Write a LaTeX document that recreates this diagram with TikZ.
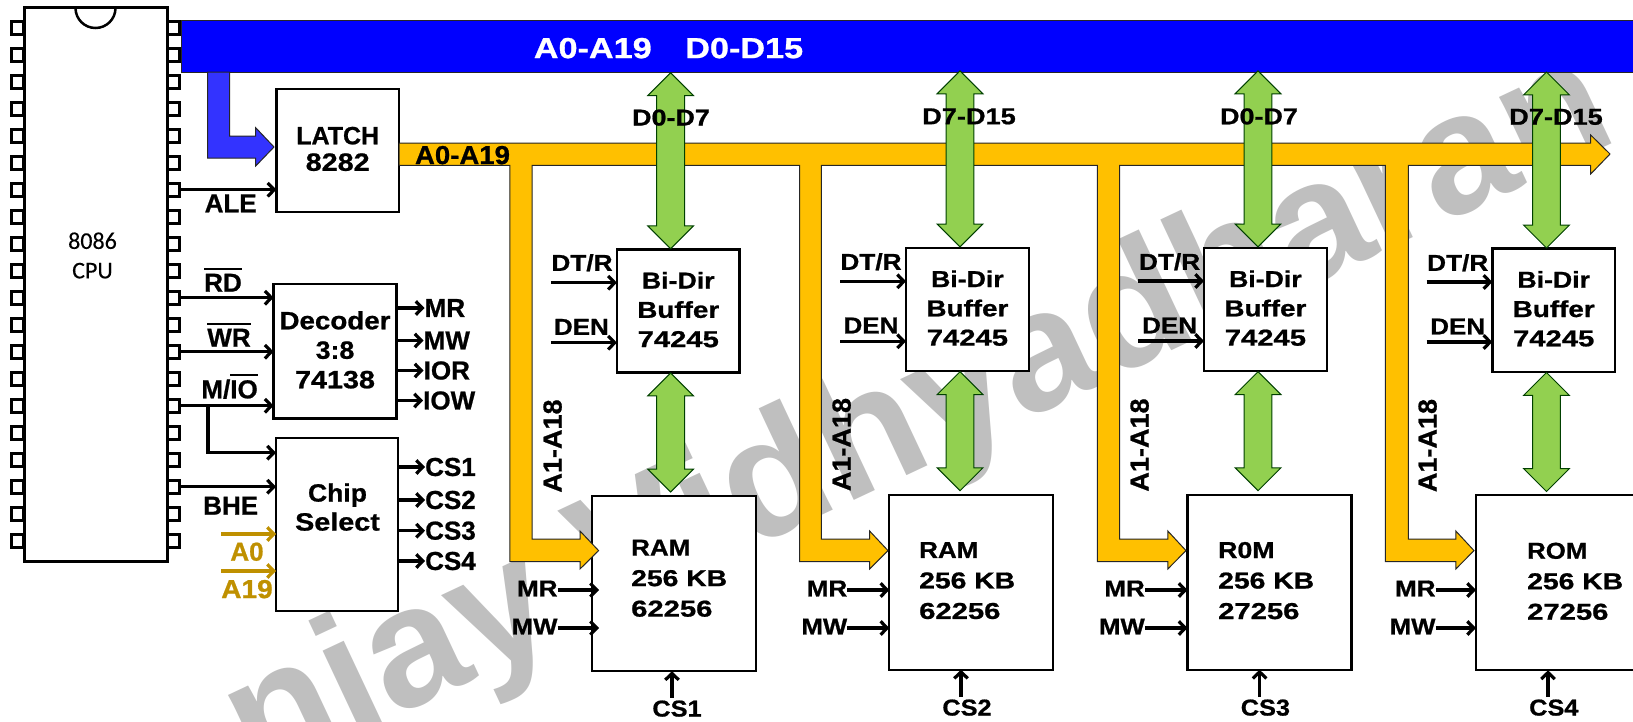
\documentclass[tikz,border=0pt]{standalone}
\usepackage{fontspec}
\usepackage{graphicx}
\usepackage{xcolor}
\usetikzlibrary{arrows.meta,shapes.arrows}
\setmainfont{Liberation Sans}[BoldFeatures={FakeBold=0.8}]
\newfontfamily\cpuFont{Carlito}[FakeBold=0.25]
\newfontfamily\markFont{Liberation Sans Bold}
\definecolor{busBlue}{HTML}{0000FF}
\definecolor{tapBlue}{HTML}{3333FF}
\definecolor{busGold}{HTML}{FFC000}
\definecolor{textGold}{HTML}{BF9000}
\definecolor{dataGreen}{HTML}{92D050}
\definecolor{markGray}{HTML}{BFBFBF}
\newcommand{\wBox}[2]{\raisebox{3pt}{\scalebox{#1}[1]{#2}}}
\newcommand{\barText}[1]{\vbox{\hrule height 2pt\kern4.2pt\hbox{#1}}}
\tikzset{
  >={Straight Barb[length=6.5pt,width=13.5pt]},
  block/.style={draw=black, fill=white, line width=2.3pt, inner sep=0pt, outer sep=0pt, align=center, font=\fontsize{25}{29.5}\selectfont\bfseries},
  bufferBlock/.style={block, minimum width=122.7, minimum height=123.2, font=\fontsize{23}{29.3}\selectfont\bfseries},
  memBlock/.style={block, minimum width=164, minimum height=175},
  memText/.style={anchor=west, align=left, inner sep=0pt, font=\fontsize{23}{30.5}\selectfont\bfseries},
  chipPin/.style={draw=black, fill=white, line width=3pt, minimum width=12.5, minimum height=13, inner sep=0pt, outer sep=0pt},
  sigArrow/.style={->, black, line width=3.2pt},
  goldArrow/.style={->, textGold, line width=3.2pt},
  sideLabel/.style={inner sep=0pt, font=\fontsize{26}{31}\selectfont\bfseries},
  midLabel/.style={inner sep=0pt, font=\fontsize{23}{28}\selectfont\bfseries},
  dataArrow/.style={shape=double arrow, draw=black!75!green, fill=dataGreen, line width=1pt, double arrow head extend=9pt, inner xsep=0pt, inner ysep=13.4pt, outer sep=0pt, rotate=90},
  dataLong/.style={dataArrow, minimum height=176},
  dataShort/.style={dataArrow, minimum height=119},
  shape border/.style={draw=black!85, line width=1pt}
}
\begin{document}
\begin{tikzpicture}[x=1pt,y=-1pt]
\useasboundingbox (0,0) rectangle (1633,721);
\clip (0,0) rectangle (1633,721);
\node[rotate=25.2, text=markGray, inner sep=0pt, font=\fontsize{170}{170}\selectfont\markFont] (watermark) at (920,421) {njay Vidhyadharan};
\node[draw=black, fill=white, line width=3pt, minimum width=143, minimum height=554, inner sep=0pt, outer sep=0pt] (cpu) at (95.5,284) {};
\draw[black, line width=2.5pt] (75.5,8) arc[start angle=180, end angle=0, radius=20];
\node[inner sep=0pt, align=center, font=\fontsize{24}{29.5}\selectfont\cpuFont] (cpuText) at (92.5,255.5) {8086\\CPU};
\foreach \i [evaluate=\i as \py using 27.7+27*\i] in {0,...,19} {
  \node[chipPin] (pinL\i) at (17.7,\py) {};
  \node[chipPin] (pinR\i) at (173.7,\py) {};
}
\node[shape border, fill=busBlue, minimum width=1460, minimum height=51.5, inner sep=0pt, outer sep=0pt] (sysBus) at (911.5,46.5) {};
\node[inner sep=0pt, text=white, font=\fontsize{29}{34}\selectfont\bfseries] (busAddr) at (592.8,49.5) {\wBox{1.18}{A0-A19}};
\node[inner sep=0pt, text=white, font=\fontsize{29}{34}\selectfont\bfseries] (busData) at (744.2,49.5) {\wBox{1.18}{D0-D15}};
\draw[shape border, fill=tapBlue] (207.5,72) -- (229.6,72) -- (229.6,136) -- (255.7,136) -- (255.7,127.7) -- (274,147) -- (255.7,166) -- (255.7,158) -- (207.5,158) -- cycle;
\node[block, minimum width=122.6, minimum height=122.7] (latch) at (337.7,150.3) {LATCH\\\wBox{1.15}{8282}};
\node[block, minimum width=122.8, minimum height=134.3] (decoder) at (335,351.2) {\wBox{1.11}{Decoder}\\\wBox{1.07}{3:8}\\\wBox{1.15}{74138}};
\node[block, minimum width=122, minimum height=173.3] (chipSel) at (337,524.3) {};
\node[inner sep=0pt, align=center, font=\fontsize{25}{29}\selectfont\bfseries] (chipText) at (337.5,508.5) {\wBox{1.06}{Chip}\\\wBox{1.15}{Select}};
\node[bufferBlock] (bufA) at (678.25,311) {\wBox{1.16}{Bi-Dir}\\\wBox{1.21}{Buffer}\\\wBox{1.27}{74245}};
\node[bufferBlock] (bufB) at (967.4,309.5) {\wBox{1.16}{Bi-Dir}\\\wBox{1.21}{Buffer}\\\wBox{1.27}{74245}};
\node[bufferBlock] (bufC) at (1265.4,309.5) {\wBox{1.16}{Bi-Dir}\\\wBox{1.21}{Buffer}\\\wBox{1.27}{74245}};
\node[bufferBlock] (bufD) at (1553.7,310.2) {\wBox{1.16}{Bi-Dir}\\\wBox{1.21}{Buffer}\\\wBox{1.27}{74245}};
\node[memBlock] (memA) at (674,583.7) {};
\node[memBlock] (memB) at (971.3,582.2) {};
\node[memBlock] (memC) at (1269.5,582.2) {};
\node[memBlock] (memD) at (1558,582.8) {};
\node[memText] (memTextA) at (631,579.7) {\wBox{1.13}{RAM}\\\wBox{1.23}{256 KB}\\\wBox{1.27}{62256}};
\node[memText] (memTextB) at (919,582) {\wBox{1.13}{RAM}\\\wBox{1.23}{256 KB}\\\wBox{1.27}{62256}};
\node[memText] (memTextC) at (1218,582) {\wBox{1.16}{R0M}\\\wBox{1.23}{256 KB}\\\wBox{1.27}{27256}};
\node[memText] (memTextD) at (1527,582.7) {\wBox{1.12}{ROM}\\\wBox{1.23}{256 KB}\\\wBox{1.27}{27256}};
\draw[shape border, fill=busGold] (399,143) -- (1590.7,143) -- (1590.7,135) -- (1610,154) -- (1590.7,174) -- (1590.7,165.4)
  -- (1408.3,165.4) -- (1408.3,539) -- (1455.8,539) -- (1455.8,531) -- (1474,550.6) -- (1455.8,569) -- (1455.8,561.7) -- (1385.3,561.7) -- (1385.3,165.4)
  -- (1119.6,165.4) -- (1119.6,539) -- (1167.8,539) -- (1167.8,531) -- (1186,550.6) -- (1167.8,569) -- (1167.8,561.7) -- (1097.3,561.7) -- (1097.3,165.4)
  -- (821.4,165.4) -- (821.4,539) -- (869.6,539) -- (869.6,531) -- (888,550.6) -- (869.6,569) -- (869.6,561.7) -- (799.6,561.7) -- (799.6,165.4)
  -- (532,165.4) -- (532,539) -- (580,539) -- (580,531) -- (598.6,550.6) -- (580,569) -- (580,561.7) -- (509.8,561.7) -- (509.8,165.4)
  -- (399,165.4) -- cycle;
\node[sideLabel] (goldLabel) at (462.5,156.5) {\wBox{1.06}{A0-A19}};
\node[dataLong] (dataTopA) at (670.6,160.7) {};
\node[dataLong] (dataTopB) at (960,158.9) {};
\node[dataLong] (dataTopC) at (1258,158.9) {};
\node[dataLong] (dataTopD) at (1546.5,160) {};
\node[dataShort] (dataLowA) at (670.6,432.5) {};
\node[dataShort] (dataLowB) at (960,431.2) {};
\node[dataShort] (dataLowC) at (1258,431.2) {};
\node[dataShort] (dataLowD) at (1546.5,432) {};
\node[midLabel] (dataLabelA) at (671,119) {\wBox{1.17}{D0-D7}};
\node[midLabel] (dataLabelB) at (969,117.8) {\wBox{1.18}{D7-D15}};
\node[midLabel] (dataLabelC) at (1259,117.8) {\wBox{1.17}{D0-D7}};
\node[midLabel] (dataLabelD) at (1556,118.3) {\wBox{1.18}{D7-D15}};
\draw[sigArrow] (pinR6.east) -- (pinR6.east -| latch.west);
\node[sideLabel] (aleLabel) at (230.7,203.3) {ALE};
\draw[sigArrow] (pinR10.east) -- (pinR10.east -| decoder.west);
\node[sideLabel, anchor=base] (rdLabel) at (223,291.7) {\barText{RD}};
\draw[sigArrow] (pinR12.east) -- (pinR12.east -| decoder.west);
\node[sideLabel, anchor=base] (wrLabel) at (229,346.7) {\barText{WR}};
\draw[sigArrow] (pinR14.east) -- (pinR14.east -| decoder.west);
\node[sideLabel, anchor=base] (mioLabel) at (229.6,398.3) {M/\barText{IO}};
\coordinate (mioTap) at (208,405.7);
\coordinate (mioLow) at (208,452.7);
\draw[sigArrow] (mioTap) -- (mioLow) -- (mioLow -| chipSel.west);
\draw[sigArrow] (pinR17.east) -- (pinR17.east -| chipSel.west);
\node[sideLabel] (bheLabel) at (230.7,505.7) {BHE};
\coordinate (addrZero) at (221.4,534);
\coordinate (addrTop) at (221.4,571);
\draw[goldArrow] (addrZero) -- (addrZero -| chipSel.west);
\draw[goldArrow] (addrTop) -- (addrTop -| chipSel.west);
\node[sideLabel, text=textGold] (aZeroLabel) at (247,551.7) {A0};
\node[sideLabel, text=textGold] (aTopLabel) at (247,590.5) {\wBox{1.08}{A19}};
\node[sideLabel, anchor=west] (mrOut) at (424.5,308) {MR};
\node[sideLabel, anchor=west] (mwOut) at (423.5,340.5) {MW};
\node[sideLabel, anchor=west] (iorOut) at (423.5,370.5) {IOR};
\node[sideLabel, anchor=west] (iowOut) at (423,400.5) {IOW};
\draw[sigArrow] (mrOut.west -| decoder.east) -- (mrOut.west);
\draw[sigArrow] (mwOut.west -| decoder.east) -- (mwOut.west);
\draw[sigArrow] (iorOut.west -| decoder.east) -- (iorOut.west);
\draw[sigArrow] (iowOut.west -| decoder.east) -- (iowOut.west);
\node[sideLabel, anchor=west] (csOutA) at (425,467) {CS1};
\node[sideLabel, anchor=west] (csOutB) at (425,500) {CS2};
\node[sideLabel, anchor=west] (csOutC) at (425,530.7) {CS3};
\node[sideLabel, anchor=west] (csOutD) at (425,561) {CS4};
\draw[sigArrow] (csOutA.west -| chipSel.east) -- (csOutA.west);
\draw[sigArrow] (csOutB.west -| chipSel.east) -- (csOutB.west);
\draw[sigArrow] (csOutC.west -| chipSel.east) -- (csOutC.west);
\draw[sigArrow] (csOutD.west -| chipSel.east) -- (csOutD.west);
\node[midLabel] (dtrA) at (582,264) {\wBox{1.14}{DT/R}};
\node[midLabel] (dtrB) at (871,263) {\wBox{1.14}{DT/R}};
\node[midLabel] (dtrC) at (1169.6,263) {\wBox{1.14}{DT/R}};
\node[midLabel] (dtrD) at (1457.7,264) {\wBox{1.14}{DT/R}};
\node[midLabel] (denA) at (581.4,328.4) {\wBox{1.13}{DEN}};
\node[midLabel] (denB) at (871,327) {\wBox{1.13}{DEN}};
\node[midLabel] (denC) at (1169.6,327) {\wBox{1.13}{DEN}};
\node[midLabel] (denD) at (1457.7,328) {\wBox{1.13}{DEN}};
\coordinate (dtrInA) at (550.8,282.7);
\coordinate (dtrInB) at (840,281.3);
\coordinate (dtrInC) at (1138,281);
\coordinate (dtrInD) at (1426.6,282);
\coordinate (denInA) at (550.8,342.7);
\coordinate (denInB) at (840,341.3);
\coordinate (denInC) at (1138,341);
\coordinate (denInD) at (1426.6,342);
\draw[sigArrow] (dtrInA) -- (dtrInA -| bufA.west);
\draw[sigArrow] (dtrInB) -- (dtrInB -| bufB.west);
\draw[sigArrow] (dtrInC) -- (dtrInC -| bufC.west);
\draw[sigArrow] (dtrInD) -- (dtrInD -| bufD.west);
\draw[sigArrow] (denInA) -- (denInA -| bufA.west);
\draw[sigArrow] (denInB) -- (denInB -| bufB.west);
\draw[sigArrow] (denInC) -- (denInC -| bufC.west);
\draw[sigArrow] (denInD) -- (denInD -| bufD.west);
\node[sideLabel, rotate=90] (tapLabelA) at (554,446) {\wBox{1.04}{A1-A18}};
\node[sideLabel, rotate=90] (tapLabelB) at (843,444.5) {\wBox{1.04}{A1-A18}};
\node[sideLabel, rotate=90] (tapLabelC) at (1141,445) {\wBox{1.04}{A1-A18}};
\node[sideLabel, rotate=90] (tapLabelD) at (1429,445.5) {\wBox{1.04}{A1-A18}};
\node[midLabel, anchor=east] (mrA) at (557.7,590) {\wBox{1.13}{MR}};
\node[midLabel, anchor=east] (mrB) at (847.4,590) {\wBox{1.13}{MR}};
\node[midLabel, anchor=east] (mrC) at (1145,590) {\wBox{1.13}{MR}};
\node[midLabel, anchor=east] (mrD) at (1435.7,590) {\wBox{1.13}{MR}};
\node[midLabel, anchor=east] (mwA) at (557.7,628) {\wBox{1.12}{MW}};
\node[midLabel, anchor=east] (mwB) at (847.4,628) {\wBox{1.12}{MW}};
\node[midLabel, anchor=east] (mwC) at (1145,628) {\wBox{1.12}{MW}};
\node[midLabel, anchor=east] (mwD) at (1435.7,628) {\wBox{1.12}{MW}};
\draw[sigArrow] (mrA.east) -- ([xshift=7pt]mrA.east -| memA.west);
\draw[sigArrow] (mrB.east) -- (mrB.east -| memB.west);
\draw[sigArrow] (mrC.east) -- (mrC.east -| memC.west);
\draw[sigArrow] (mrD.east) -- (mrD.east -| memD.west);
\draw[sigArrow] (mwA.east) -- ([xshift=7pt]mwA.east -| memA.west);
\draw[sigArrow] (mwB.east) -- (mwB.east -| memB.west);
\draw[sigArrow] (mwC.east) -- (mwC.east -| memC.west);
\draw[sigArrow] (mwD.east) -- (mwD.east -| memD.west);
\node[midLabel] (csA) at (677,710) {\wBox{1.1}{CS1}};
\node[midLabel] (csB) at (967,709) {\wBox{1.1}{CS2}};
\node[midLabel] (csC) at (1265.4,709) {\wBox{1.1}{CS3}};
\node[midLabel] (csD) at (1553.8,709) {\wBox{1.1}{CS4}};
\coordinate (csInA) at (672,697.5);
\coordinate (csInB) at (961,697);
\coordinate (csInC) at (1259.6,697);
\coordinate (csInD) at (1548,697);
\draw[sigArrow] (csInA) -- (csInA |- memA.south);
\draw[sigArrow] (csInB) -- (csInB |- memB.south);
\draw[sigArrow] (csInC) -- (csInC |- memC.south);
\draw[sigArrow] (csInD) -- (csInD |- memD.south);
\end{tikzpicture}
\end{document}
